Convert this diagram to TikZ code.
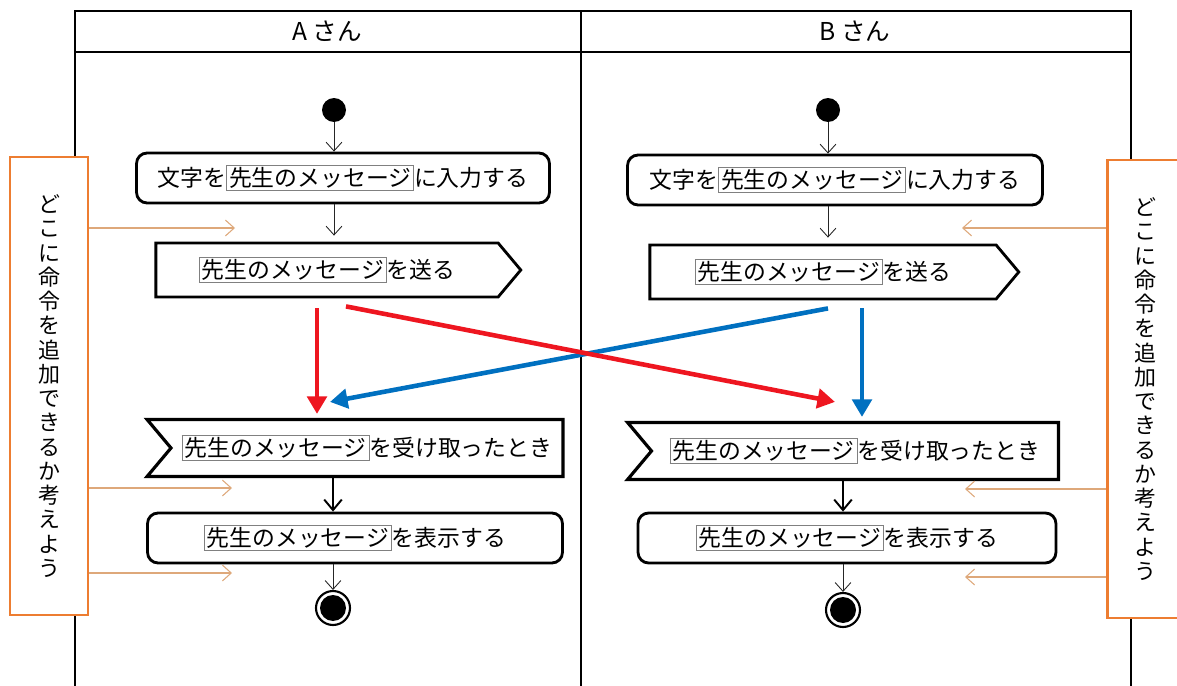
\documentclass[tikz,border=0pt]{standalone}
\usepackage{fontspec}
\setmainfont{Noto Sans CJK JP}
\usetikzlibrary{arrows.meta,shapes.symbols,calc}

\definecolor{sigred}{RGB}{238,22,32}
\definecolor{sigblue}{RGB}{0,112,192}
\definecolor{hintorange}{RGB}{237,125,49}
\definecolor{hinttan}{RGB}{222,168,122}

\newcommand{\msg}{{\setlength{\fboxsep}{1pt}\setlength{\fboxrule}{0.6pt}\fcolorbox{gray}{white}{先生のメッセージ}}}
\newcommand{\hinttext}{ど\\こ\\に\\命\\令\\を\\追\\加\\で\\き\\る\\か\\考\\え\\よ\\う}

\tikzstyle{lane} = [draw=black, line width=0.9pt]
\tikzstyle{actbox} = [draw=black, line width=1.6pt, rectangle, rounded corners=6pt,
    minimum height=1cm, inner sep=2pt, font=\fontsize{13}{15}\selectfont]
\tikzstyle{sendbox} = [draw=black, line width=1.6pt, signal, signal to=east,
    signal pointer angle=100, minimum height=1.08cm, inner sep=2pt, font=\fontsize{13}{15}\selectfont]
\tikzstyle{recvbox} = [draw=black, line width=1.8pt, signal, signal to=nowhere, signal from=west,
    signal pointer angle=100, minimum height=1.14cm, inner sep=2pt, font=\fontsize{13}{15}\selectfont]
\tikzstyle{startdot} = [circle, fill=black, minimum size=0.48cm, inner sep=0pt]
\tikzstyle{enddot} = [circle, draw=black, line width=1.2pt, minimum size=0.68cm, inner sep=0pt,
    path picture={\fill[black] (path picture bounding box.center) circle (0.26cm);}]
\tikzstyle{flow} = [draw=black!85, line width=0.5pt, -{Straight Barb[length=5pt,width=9pt]}]
\tikzstyle{boldflow} = [draw=black, line width=1.1pt, -{Straight Barb[length=6pt,width=10pt,line width=1.1pt]}]
\tikzstyle{hint} = [draw=hinttan, line width=0.6pt, -{Straight Barb[length=5pt,width=9pt]}]
\tikzstyle{hintbox} = [draw=hintorange, line width=1.2pt, fill=white, rectangle, inner sep=0pt,
    align=center, font=\fontsize{12.5}{13.8}\selectfont]
\tikzstyle{sig} = [line width=2.6pt, -{Triangle[length=10pt,width=11pt]}]

\begin{document}
\begin{tikzpicture}[x=0.02cm, y=-0.02cm]
    \clip (0,0) rectangle (1177,686);
    \fill[white] (0,0) rectangle (1177,686);

    % swimlanes
    \draw[lane] (75,686) -- (75,11) -- (1131,11) -- (1131,686);
    \draw[lane] (581,11) -- (581,686);
    \draw[lane] (75,52) -- (1131,52);
    \node[font=\fontsize{14}{16}\selectfont] (laneA) at (327,31) {A さん};
    \node[font=\fontsize{14}{16}\selectfont] (laneB) at (855,31) {B さん};

    % A
    \node[startdot] (startA) at (334,110) {};
    \node[actbox, minimum width=8.26cm] (inputA) at (343,178) {文字を\msg に入力する};
    \node[sendbox, minimum width=7.3cm] (sendA) at (327,270) {\msg を送る};
    \node[recvbox, minimum width=8.32cm] (recvA) at (367,448) {\msg を受け取ったとき};
    \node[actbox, minimum width=8.3cm] (showA) at (355,538) {\msg を表示する};
    \node[enddot] (endA) at (333,608) {};

    % B
    \node[startdot] (startB) at (828,110) {};
    \node[actbox, minimum width=8.3cm] (inputB) at (835,180) {文字を\msg に入力する};
    \node[sendbox, minimum width=7.38cm] (sendB) at (823,272) {\msg を送る};
    \node[recvbox, minimum width=8.62cm] (recvB) at (855,451) {\msg を受け取ったとき};
    \node[actbox, minimum width=8.36cm] (showB) at (847,538) {\msg を表示する};
    \node[enddot] (endB) at (843,610) {};

    % flow
    \draw[flow] (startA) -- (startA |- inputA.north);
    \draw[flow] (inputA.south -| startA) -- ($(startA |- sendA.north)+(0,-6)$);
    \draw[boldflow] (recvA.south -| endA) -- (endA |- showA.north);
    \draw[flow] (showA.south -| endA) -- (endA);
    \draw[flow] (startB) -- (startB |- inputB.north);
    \draw[flow] (inputB.south -| startB) -- ($(startB |- sendB.north)+(0,-6)$);
    \draw[boldflow] (recvB.south -| endB) -- (endB |- showB.north);
    \draw[flow] (showB.south -| endB) -- (endB);

    % messages
    \coordinate (redA) at ($(sendA.south)+(-10,10)$);
    \coordinate (redX) at ($(sendA.south)+(19,8)$);
    \coordinate (blueB) at ($(sendB.south)+(39,8)$);
    \coordinate (blueX) at ($(sendB.south)+(5,8)$);
    \draw[sig, sigred] (redA) -- ($(redA |- recvA.north)+(0,-4)$);
    \draw[sig, sigblue] (blueX) -- ($(recvA.north)+(-37,-16)$);
    \draw[sig, sigred] (redX) -- ($(recvB.north)+(-20,-19)$);
    \draw[sig, sigblue] (blueB) -- ($(blueB |- recvB.north)+(0,-4)$);

    % hints
    \node[hintbox, minimum width=1.56cm, minimum height=9.16cm] (hintL) at (49,386) {\hinttext};
    \node[hintbox, minimum width=1.5cm, minimum height=9.16cm] (hintR) at (1145,389) {\hinttext};
    \coordinate (slotA1) at (235,228);
    \coordinate (slotA2) at (232,488);
    \coordinate (slotA3) at (232,573);
    \coordinate (slotB1) at (962,228);
    \coordinate (slotB2) at (965,489);
    \coordinate (slotB3) at (965,577);
    \draw[hint] (hintL.east |- slotA1) -- (slotA1);
    \draw[hint] (hintL.east |- slotA2) -- (slotA2);
    \draw[hint] (hintL.east |- slotA3) -- (slotA3);
    \draw[hint] (hintR.west |- slotB1) -- (slotB1);
    \draw[hint] (hintR.west |- slotB2) -- (slotB2);
    \draw[hint] (hintR.west |- slotB3) -- (slotB3);
\end{tikzpicture}
\end{document}
